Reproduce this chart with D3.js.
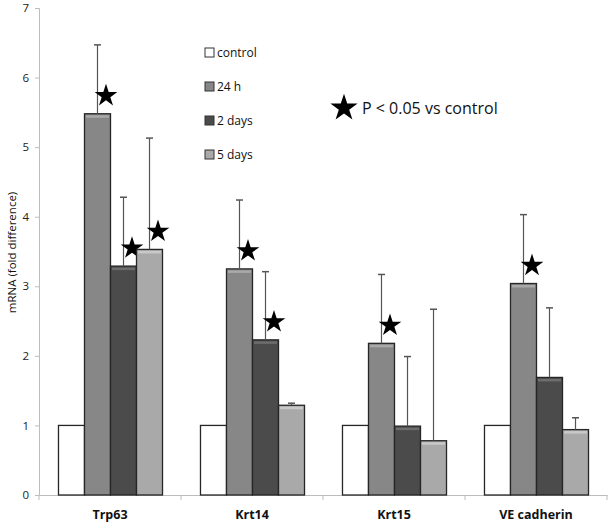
<!DOCTYPE html>
<html>
<head>
<meta charset="utf-8">
<script src="https://cdn.jsdelivr.net/npm/d3@7"></script>
<style>
  body { margin: 0; background: #fff; }
  svg { display: block; font-family: "Open Sans", "Noto Sans", sans-serif; }
</style>
</head>
<body>
<svg width="609" height="525"></svg>
<script>
var categories = ["Trp63", "Krt14", "Krt15", "VE cadherin"];
var series = ["control", "24 h", "2 days", "5 days"];
// values per series, one per category
var control = [1, 1, 1, 1];
var h24 = [5.48, 3.25, 2.18, 3.04];
var days2 = [3.29, 2.23, 0.99, 1.69];
var days5 = [3.53, 1.29, 0.78, 0.94];
// top of error bar
var errControl = [null, null, null, null];
var err24 = [6.47, 4.24, 3.17, 4.03];
var err2 = [4.28, 3.21, 1.99, 2.69];
var err5 = [5.13, 1.32, 2.67, 1.11];
// significance stars (p < 0.05)
var sig24 = [true, true, true, true];
var sig2 = [true, true, false, false];
var sig5 = [true, false, false, false];
var yTicks = [0, 1, 2, 3, 4, 5, 6, 7];

var fills = ["#ffffff", "#878787", "#4b4b4b", "#a9a9a9"];
var tops = ["#ffffff", "#a9a9a9", "#6d6d6d", "#c9c9c9"];

var valueSets = [control, h24, days2, days5];
var errSets = [errControl, err24, err2, err5];
var sigSets = [[false, false, false, false], sig24, sig2, sig5];

var data = [];
categories.forEach(function(c, ci) {
  series.forEach(function(s, si) {
    data.push({cat: c, key: s, si: si, value: valueSets[si][ci], err: errSets[si][ci], sig: sigSets[si][ci]});
  });
});

var svg = d3.select("svg"),
    margin = {top: 8, right: 2, bottom: 30, left: 39},
    width = +svg.attr("width") - margin.left - margin.right,
    height = +svg.attr("height") - margin.top - margin.bottom,
    g = svg.append("g").attr("transform", "translate(" + margin.left + "," + margin.top + ")");

var x0 = d3.scaleBand().domain(categories).range([0, width]).paddingInner(0).paddingOuter(0);
var x1 = d3.scaleBand().domain(series).range([0, x0.bandwidth()]).paddingInner(0).paddingOuter(0.73);
var y = d3.scaleLinear().domain([0, 7]).range([height, 0]);

// y axis
var yAxis = g.append("g")
    .call(d3.axisLeft(y).tickValues(yTicks).tickSize(4).tickPadding(6).tickFormat(d3.format("d")));
yAxis.select(".domain").attr("stroke", "#bdbdbd");
yAxis.selectAll(".tick line").attr("stroke", "#bdbdbd");
yAxis.selectAll(".tick text").attr("fill", "#222").attr("font-size", 11.5)
    .attr("font-family", "'Open Sans', sans-serif");

// x axis
var xAxis = g.append("g")
    .attr("transform", "translate(0," + height + ")")
    .call(d3.axisBottom(x0).tickSize(0).tickPadding(15));
xAxis.select(".domain").attr("stroke", "#bdbdbd");
xAxis.selectAll(".tick text").attr("fill", "#111").attr("font-size", 12.5).attr("font-weight", "bold")
    .attr("font-family", "'Open Sans', sans-serif");
xAxis.selectAll(".sep")
    .data(d3.range(categories.length + 1))
    .enter().append("line")
      .attr("class", "sep")
      .attr("x1", function(i) { return i * x0.step(); })
      .attr("x2", function(i) { return i * x0.step(); })
      .attr("y1", 0).attr("y2", 5)
      .attr("stroke", "#bdbdbd");

// bars
var bars = g.append("g").selectAll("g")
    .data(data)
    .enter().append("g")
      .attr("transform", function(d) { return "translate(" + (x0(d.cat) + x1(d.key)) + ",0)"; });

bars.append("rect")
    .attr("x", 0.5)
    .attr("y", function(d) { return y(d.value); })
    .attr("width", x1.bandwidth())
    .attr("height", function(d) { return height - y(d.value); })
    .attr("fill", function(d) { return fills[d.si]; })
    .attr("stroke", "#262626")
    .attr("stroke-width", 1.3);

// little bevel highlight on the top edge
bars.filter(function(d) { return d.si > 0; }).append("rect")
    .attr("x", 2)
    .attr("y", function(d) { return y(d.value) + 1.5; })
    .attr("width", x1.bandwidth() - 3)
    .attr("height", 2.5)
    .attr("fill", function(d) { return tops[d.si]; });

// error bars
var eb = bars.filter(function(d) { return d.err != null; });
eb.append("line")
    .attr("x1", x1.bandwidth() / 2 + 0.5).attr("x2", x1.bandwidth() / 2 + 0.5)
    .attr("y1", function(d) { return y(d.value); })
    .attr("y2", function(d) { return y(d.err); })
    .attr("stroke", "#555").attr("stroke-width", 1.2);
eb.append("line")
    .attr("x1", x1.bandwidth() / 2 - 3).attr("x2", x1.bandwidth() / 2 + 4)
    .attr("y1", function(d) { return y(d.err); })
    .attr("y2", function(d) { return y(d.err); })
    .attr("stroke", "#555").attr("stroke-width", 1.5);

// stars
var star = d3.symbol().type(d3.symbolStar).size(160);
bars.filter(function(d) { return d.sig; }).append("path")
    .attr("d", star)
    .attr("transform", function(d) { return "translate(" + (x1.bandwidth() / 2 + 9) + "," + (y(d.value) - 18) + ")"; })
    .attr("fill", "#000");

// legend
var legend = svg.append("g")
    .attr("font-family", "'Open Sans', sans-serif")
    .attr("font-size", 12)
  .selectAll("g")
  .data(series)
  .enter().append("g")
    .attr("transform", function(d, i) { return "translate(205," + (53 + i * 34) + ")"; });

legend.append("rect")
    .attr("x", 0).attr("y", -5)
    .attr("width", 9).attr("height", 9)
    .attr("fill", function(d, i) { return fills[i]; })
    .attr("stroke", "#333").attr("stroke-width", 1);

legend.append("text")
    .attr("x", 12)
    .attr("dy", "0.35em")
    .attr("fill", "#111")
    .text(function(d) { return d; });

// significance note
svg.append("path")
    .attr("d", d3.symbol().type(d3.symbolStar).size(230))
    .attr("transform", "translate(344,108)")
    .attr("fill", "#000");
svg.append("text")
    .attr("x", 362).attr("y", 108)
    .attr("dy", "0.35em")
    .attr("font-family", "'Open Sans', sans-serif")
    .attr("font-size", 16)
    .attr("fill", "#111")
    .text("P < 0.05 vs control");

// y axis title
svg.append("text")
    .attr("transform", "translate(12," + (margin.top + height / 2 + 1) + ") rotate(-90)")
    .attr("text-anchor", "middle")
    .attr("dy", "0.35em")
    .attr("font-family", "'Open Sans', sans-serif")
    .attr("font-size", 11.5)
    .attr("fill", "#111")
    .text("mRNA (fold difference)");
</script>
</body>
</html>
